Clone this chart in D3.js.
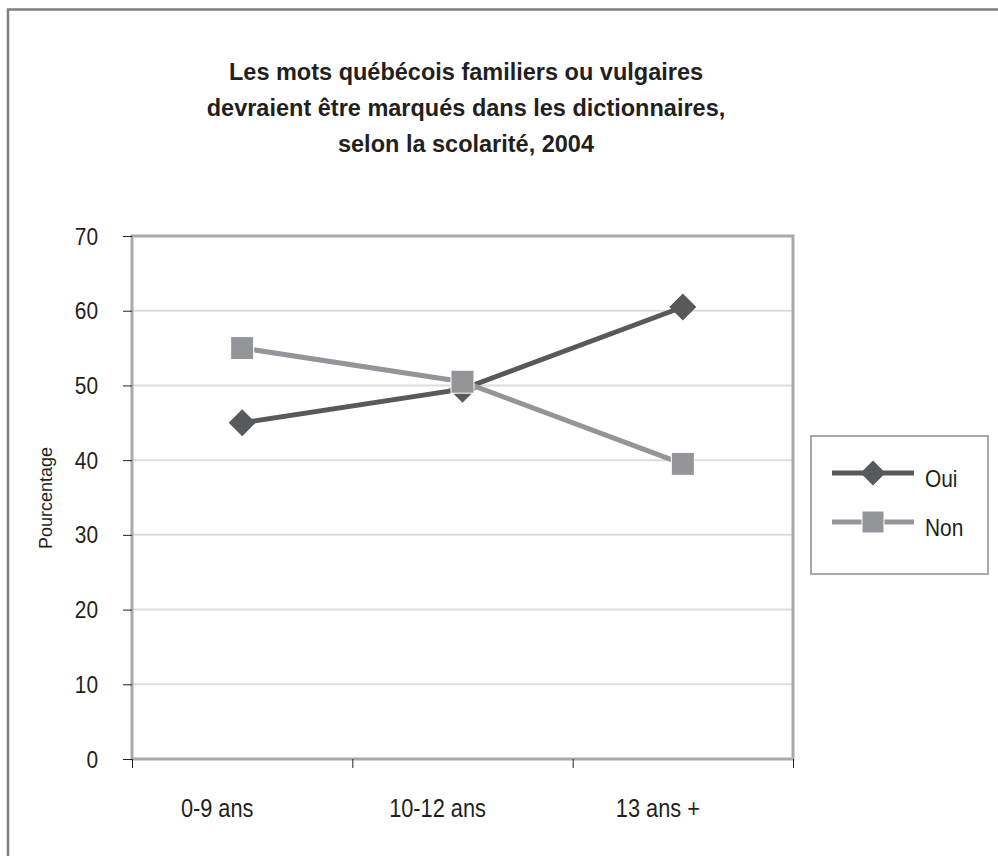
<!DOCTYPE html>
<html><head><meta charset="utf-8">
<script src="https://cdn.jsdelivr.net/npm/d3@7/dist/d3.min.js"></script>
<style>
body{margin:0;background:#fff;}
svg{display:block;}
text{font-family:"Liberation Sans Narrow","Arial Narrow","Liberation Sans",Arial,sans-serif;fill:#231f20;}
</style></head>
<body>
<svg id="chart" width="998" height="856"></svg>
<script>
const titleLines = ["Les mots québécois familiers ou vulgaires","devraient être marqués dans les dictionnaires,","selon la scolarité, 2004"];
const categories = ["0-9 ans","10-12 ans","13 ans +"];
const oui = [45, 49.5, 60.5];
const non = [55, 50.5, 39.5];
const seriesNames = ["Oui","Non"];
const yTicks = [0,10,20,30,40,50,60,70];
const yLabel = "Pourcentage";

const svg = d3.select("#chart");
const M = {left:132, right:793, top:236, bottom:759};
const x = d3.scaleBand().domain(categories).range([M.left, M.right]).padding(0);
const y = d3.scaleLinear().domain([0,70]).range([M.bottom, M.top]);
const SX = 0.87; // horizontal condensing to mimic a narrow face

function ntext(g, px, py, str, size, anchor){
  return g.append("g").attr("transform",`translate(${px},${py}) scale(${SX},1)`)
    .append("text").attr("x",0).attr("y",0).attr("font-size",size).attr("text-anchor",anchor||"start").text(str);
}

// outer frame
svg.append("rect").attr("x",8).attr("y",9.5).attr("width",1000).attr("height",860)
  .attr("fill","none").attr("stroke","#7f7f7f").attr("stroke-width",2.5);

// title
const tt = svg.append("text").attr("text-anchor","middle").attr("font-weight","bold").attr("font-size",23.5);
titleLines.forEach((l,i)=>tt.append("tspan").attr("x",466).attr("y",80+i*36).text(l));

// gridlines
svg.append("g").selectAll("line").data(yTicks.filter(d=>d>0 && d<70)).join("line")
  .attr("x1",M.left).attr("x2",M.right).attr("y1",d=>y(d)).attr("y2",d=>y(d))
  .attr("stroke","#dcdcdc").attr("stroke-width",2);

// plot border
svg.append("rect").attr("x",M.left).attr("y",M.top).attr("width",M.right-M.left).attr("height",M.bottom-M.top)
  .attr("fill","none").attr("stroke","#a7a9ac").attr("stroke-width",3);

// y axis ticks
const yAxis = d3.axisLeft(y).tickValues(yTicks).tickSize(9).tickFormat("");
const gy = svg.append("g").attr("transform",`translate(${M.left},0)`).call(yAxis);
gy.select(".domain").remove();
gy.selectAll(".tick line").attr("stroke","#231f20").attr("stroke-width",1);
const gyl = svg.append("g");
yTicks.forEach(t=>ntext(gyl, 98, y(t)+8.5, String(t), 24, "end"));

// x axis ticks
const xAxis = d3.axisBottom(d3.scaleLinear().domain([0,3]).range([M.left,M.right])).tickValues([0,1,2,3]).tickSize(9).tickFormat("");
const gx = svg.append("g").attr("transform",`translate(0,${M.bottom})`).call(xAxis);
gx.select(".domain").remove();
gx.selectAll(".tick line").attr("stroke","#231f20").attr("stroke-width",1);
const gxl = svg.append("g");
categories.forEach(c=>ntext(gxl, x(c)+x.bandwidth()/2-25, 817, c, 25, "middle"));

// y label
svg.append("text").attr("transform","translate(52,498) rotate(-90)").attr("text-anchor","middle")
  .attr("font-size",18).text(yLabel);

const cx = d=>x(d)+x.bandwidth()/2;
const line = d3.line().x(d=>cx(d.c)).y(d=>y(d.v));
const colors = {Oui:"#58595b", Non:"#939598"};
const dOui = categories.map((c,i)=>({c,v:oui[i]}));
const dNon = categories.map((c,i)=>({c,v:non[i]}));

function diamond(g, px, py, r, col){
  g.append("path").attr("d",`M${px},${py-r}L${px+r},${py}L${px},${py+r}L${px-r},${py}Z`).attr("fill",col);
}
function square(g, px, py, s, col){
  g.append("rect").attr("x",px-s/2).attr("y",py-s/2).attr("width",s).attr("height",s).attr("fill",col)
   .attr("stroke","#ffffff").attr("stroke-width",1);
}
const gl = svg.append("g");
gl.append("path").datum(dOui).attr("d",line).attr("fill","none").attr("stroke",colors.Oui).attr("stroke-width",5);
dOui.forEach(d=>diamond(gl,cx(d.c),y(d.v),13.5,colors.Oui));
gl.append("path").datum(dNon).attr("d",line).attr("fill","none").attr("stroke",colors.Non).attr("stroke-width",5);
dNon.forEach(d=>square(gl,cx(d.c),y(d.v),23,colors.Non));

// legend
const lg = svg.append("g");
lg.append("rect").attr("x",811).attr("y",436).attr("width",177).attr("height",138)
  .attr("fill","#fff").attr("stroke","#a7a9ac").attr("stroke-width",2);
seriesNames.forEach((s,i)=>{
  const ly = 473 + i*49;
  lg.append("line").attr("x1",832).attr("x2",914).attr("y1",ly).attr("y2",ly).attr("stroke",colors[s]).attr("stroke-width",5);
  if(s==="Oui") diamond(lg,873,ly,12.5,colors[s]); else square(lg,873,ly,22,colors[s]);
  ntext(lg, 925, ly+14, s, 24, "start");
});
</script>
</body></html>
